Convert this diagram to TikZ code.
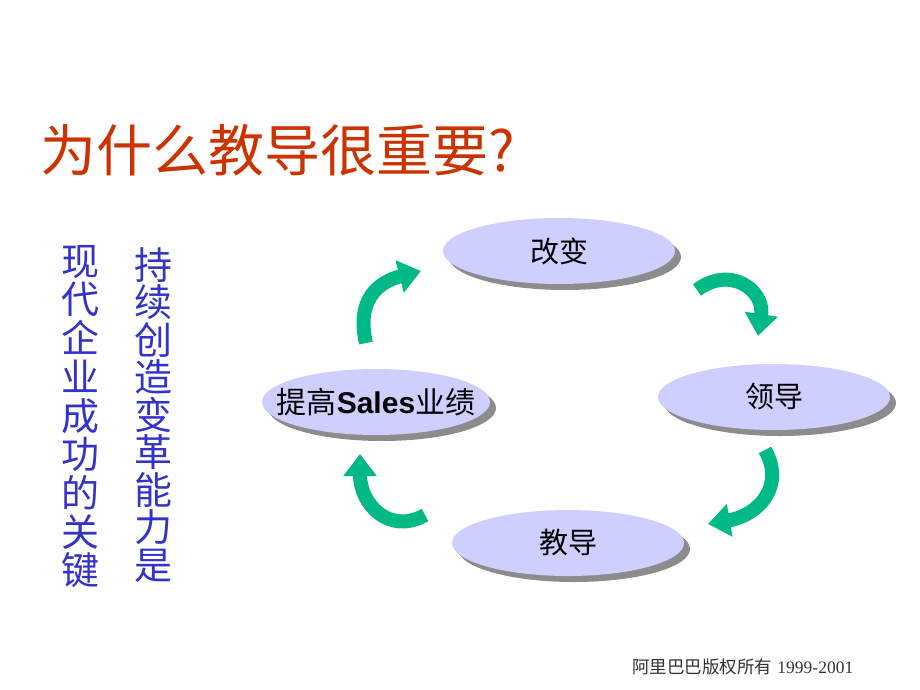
\documentclass[tikz,border=0pt]{standalone}
\usepackage{fontspec}
\newfontfamily\cjk{Noto Sans CJK SC}
\newfontfamily\latinsans{Liberation Sans}
\newfontfamily\latinserif{Liberation Serif}
\usetikzlibrary{shapes.geometric, shadows, arrows.meta}
\definecolor{titlered}{RGB}{204,51,0}
\definecolor{textblue}{RGB}{51,51,204}
\definecolor{ellipsefill}{RGB}{206,206,255}
\definecolor{arrowgreen}{RGB}{0,185,135}
\definecolor{footgray}{RGB}{51,51,51}
\tikzset{
    titlenode/.style = {draw=none, inner sep=0em, anchor=west, text=titlered,
      font=\cjk\fontsize{56}{56}\selectfont},
    vtextnode/.style = {draw=none, inner sep=0em, anchor=north, align=center, text=textblue},
    ellipsenode/.style = {ellipse, fill=ellipsefill, inner sep=0em, minimum width=232pt,
      minimum height=66pt, font=\cjk\fontsize{29}{29}\selectfont,
      drop shadow={shadow xshift=6pt, shadow yshift=-6pt, fill=black!45, opacity=1}},
    cyclearrow/.style = {draw=arrowgreen, line width=14pt,
      -{Triangle[width=32pt, length=22pt]}},
    footnode/.style = {draw=none, inner sep=0em, anchor=west, text=footgray,
      font=\fontsize{17.5}{17.5}\selectfont}
}

\begin{document}
\begin{tikzpicture}[x=1pt, y=-1pt]
    \useasboundingbox (0,0) rectangle (920,690);

    \node [titlenode, name=title] at (40,150) {为什么教导很重要?};

    \node [vtextnode, name=colA, font=\cjk\fontsize{38}{38.7}\selectfont] at (80,245)
        {现\\代\\企\\业\\成\\功\\的\\关\\键};
    \node [vtextnode, name=colB, font=\cjk\fontsize{38}{37.5}\selectfont] at (153,247)
        {持\\续\\创\\造\\变\\革\\能\\力\\是};

    \node [ellipsenode, name=change] at (559,251) {改变};
    \node [ellipsenode, name=lead] at (774,397) {领导};
    \node [ellipsenode, name=coach] at (568,543) {教导};
    \node [ellipsenode, name=sales, minimum width=228pt, font=\cjk\fontsize{30}{30}\selectfont]
        at (376,402) {\makebox[0pt]{提高{\latinsans\bfseries Sales}业绩}};

    % arrow ends
    \coordinate (a1s) at (366,343); \coordinate (a1e) at (421,271);
    \coordinate (a2s) at (697,290); \coordinate (a2e) at (758,336);
    \coordinate (a3s) at (765,450); \coordinate (a3e) at (708,524);
    \coordinate (a4s) at (425,515); \coordinate (a4e) at (360,454);

    \draw [cyclearrow] (a1s) .. controls (356,300) and (378,282) .. (a1e);
    \draw [cyclearrow] (a2s) .. controls (730,265) and (765,290) .. (a2e);
    \draw [cyclearrow] (a3s) .. controls (785,485) and (760,515) .. (a3e);
    \draw [cyclearrow] (a4s) .. controls (390,535) and (360,505) .. (a4e);

    \node [footnode, name=foot] at (632,667) {{\cjk 阿里巴巴版权所有} {\latinserif 1999-2001}};
\end{tikzpicture}
\end{document}
